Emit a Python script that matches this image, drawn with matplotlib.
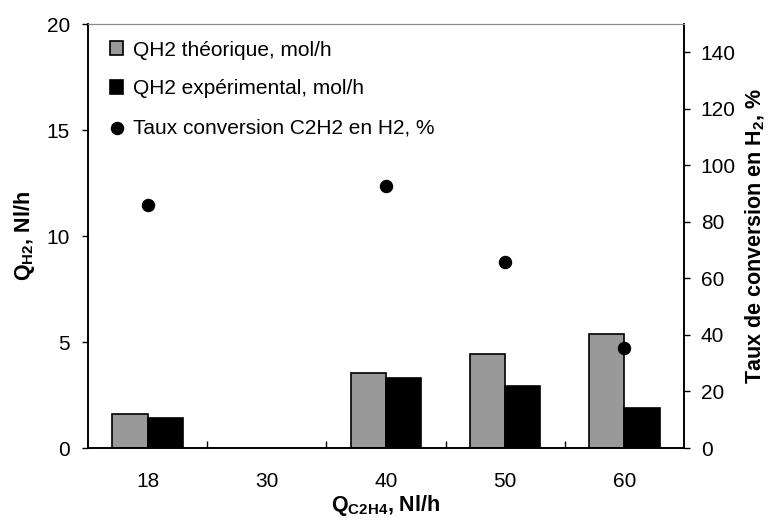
import matplotlib
matplotlib.use("Agg")
import matplotlib.pyplot as plt
import numpy as np

plt.rcParams['font.family'] = ['Liberation Sans', 'DejaVu Sans']
plt.rcParams['mathtext.fontset'] = 'custom'
plt.rcParams['mathtext.rm'] = 'Liberation Sans'
plt.rcParams['mathtext.bf'] = 'Liberation Sans:bold'
plt.rcParams['mathtext.it'] = 'Liberation Sans:italic'

categories = ['18', '30', '40', '50', '60']
qh2_theorique = [1.61, np.nan, 3.55, 4.42, 5.38]
qh2_experimental = [1.42, np.nan, 3.32, 2.92, 1.90]
taux_conversion = [85.8, np.nan, 92.8, 65.8, 35.5]

legend_labels = ['QH2 théorique, mol/h', 'QH2 expérimental, mol/h',
                 'Taux conversion C2H2 en H2, %']

FS = 15
LFS = 15.5

fig = plt.figure(figsize=(7.71, 5.2), dpi=100)
ax = fig.add_axes([88/771, 1-448/520, (684-88)/771, (448-24)/520])
ax2 = ax.twinx()

x = np.arange(len(categories))
w = 0.295
b1 = ax.bar(x - w/2, qh2_theorique, w, color='#999999', edgecolor='black', linewidth=1.2, zorder=2)
b2 = ax.bar(x + w/2, qh2_experimental, w, color='black', edgecolor='black', linewidth=1.2, zorder=2)
sc = ax2.scatter(x, taux_conversion, s=75, color='black', zorder=3)

ax.set_xlim(-0.5, len(categories) - 0.5)
ax.set_ylim(0, 20)
ax2.set_ylim(0, 150)
ax.set_yticks([0, 5, 10, 15, 20])
ax2.set_yticks(np.arange(0, 141, 20))

ax.set_xticks(x)
ax.set_xticklabels(categories)
ax.set_xticks(np.arange(0.5, len(categories) - 1, 1), minor=True)
ax.tick_params(axis='x', which='major', length=0, pad=17, labelsize=FS)
ax.tick_params(axis='x', which='minor', direction='in', length=5, width=1)
ax.tick_params(axis='y', direction='out', length=4, width=1, labelsize=FS, pad=9)
ax2.tick_params(axis='y', direction='out', length=4, width=1, labelsize=FS, pad=8)

for a in (ax, ax2):
    a.spines['top'].set_color('#888888')
    a.spines['left'].set_linewidth(1.2)
    a.spines['bottom'].set_linewidth(1.2)
    a.spines['right'].set_linewidth(1.2)

ax.set_xlabel(r'$\mathbf{Q}_{\mathbf{C2H4}}$, Nl/h', fontsize=LFS, fontweight='bold', labelpad=2)
ax.set_ylabel(r'$\mathbf{Q}_{\mathbf{H2}}$, Nl/h', fontsize=LFS, fontweight='bold', labelpad=7)
ax2.set_ylabel(r'Taux de conversion en H$_{\mathbf{2}}$, %', fontsize=LFS, fontweight='bold', labelpad=6)

leg = ax2.legend([b1, b2, sc], legend_labels, loc='upper left', frameon=False,
                 fontsize=FS, labelspacing=0.95, handlelength=0.65, handleheight=0.65,
                 handletextpad=0.45, borderaxespad=0.3, bbox_to_anchor=(0.012, 0.995))

fig.savefig('out.png', dpi=100)
